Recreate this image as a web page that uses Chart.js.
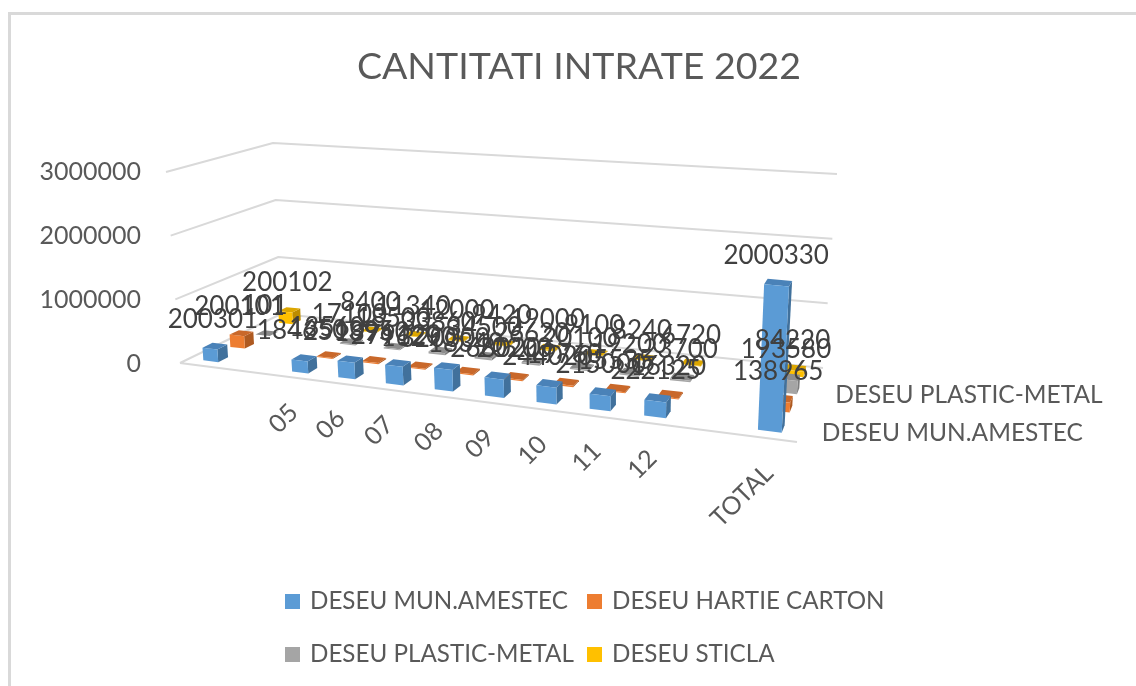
<!DOCTYPE html>
<html><head><meta charset="utf-8">
<style>
html,body{margin:0;padding:0;background:#fff;overflow:hidden}
#wrap{position:relative;width:1136px;height:686px}
#frame{position:absolute;left:8px;top:12px;right:-10px;bottom:-10px;border:3px solid #d9d9d9;box-sizing:border-box}
#c{position:absolute;left:0;top:0;filter:blur(0.6px)}
</style></head>
<body><div id="wrap"><div id="frame"></div><canvas id="c" width="1136" height="686"></canvas></div>
<script src="https://cdn.jsdelivr.net/npm/chart.js@4"></script>
<script>
const categories = ["", "", "05", "06", "07", "08", "09", "10", "11", "12", "", "TOTAL"];
const seriesNames = ["DESEU MUN.AMESTEC", "DESEU HARTIE CARTON", "DESEU PLASTIC-METAL", "DESEU STICLA"];
const seriesColors = ["#5B9BD5", "#ED7D31", "#A5A5A5", "#FFC000"];
const topColors = ["#4A82B8", "#C9682A", "#8C8C8C", "#DCA600"];
const sideColors = ["#41719C", "#AE5A21", "#7C7C7C", "#BC8C00"];
const munAmestec = [200301, null, 184650, 251395, 279120, 320000, 268020, 244020, 215000, 222125, null, 2000330];
const hartieCarton = [200101, null, 13560, 18960, 16290, 18340, 20200, 19760, 15535, 16320, null, 138965];
const plasticMetal = [101, null, 17100, 18500, 33860, 34500, 26620, 20100, 19200, 23700, null, 193580];
const sticla = [200102, null, 8400, 11340, 12000, 9420, 19000, 9100, 8240, 6720, null, 84220];
const yTicks = [0, 1000000, 2000000, 3000000];

const FONT = "Lato";
const floorCorners = {fl:[180,363], fr:[797,442], br:[823,368], bl:[281,314]};
const ceilCorners  = {fl:[166,172], fr:[809,219], br:[837,174], bl:[273,143]};

function homography(q){
  const [x0,y0]=q.fl,[x1,y1]=q.fr,[x2,y2]=q.br,[x3,y3]=q.bl;
  const dx1=x1-x2,dx2=x3-x2,dx3=x0-x1+x2-x3,dy1=y1-y2,dy2=y3-y2,dy3=y0-y1+y2-y3;
  const det=dx1*dy2-dx2*dy1;
  const g=(dx3*dy2-dx2*dy3)/det,h=(dx1*dy3-dx3*dy1)/det;
  const a=x1-x0+g*x1,b=x3-x0+h*x3,d=y1-y0+g*y1,e=y3-y0+h*y3;
  return (u,v)=>{const w=g*u+h*v+1;return [(a*u+b*v+x0)/w,(d*u+e*v+y0)/w];};
}
const floorH=homography(floorCorners), ceilH=homography(ceilCorners);
function project(u,v,w){
  const p=floorH(u,v),q=ceilH(u,v);
  return [p[0]+(q[0]-p[0])*w,p[1]+(q[1]-p[1])*w];
}
function poly(ctx,pts,fill){
  ctx.beginPath();pts.forEach((p,i)=>i?ctx.lineTo(p[0],p[1]):ctx.moveTo(p[0],p[1]));ctx.closePath();
  ctx.fillStyle=fill;ctx.fill();
}

const scene3d={
  id:"scene3d",
  beforeDatasetsDraw(chart){
    const ctx=chart.ctx,{x,y,depth}=chart.scales;
    const U=i=>{const u=(x.getPixelForValue(i)-x.left)/x.width;return u+0.09*u*(1-u);};
    const V=i=>(depth.getPixelForValue(i)-depth.left)/depth.width;
    const W=val=>(y.getPixelForValue(0)-y.getPixelForValue(val))/(y.getPixelForValue(0)-y.getPixelForValue(y.max));
    const halfU=0.37/categories.length/2, halfV=0.36/seriesNames.length/2;
    ctx.save();
    ctx.strokeStyle="#D9D9D9";ctx.lineWidth=2;ctx.lineJoin="round";
    yTicks.forEach(t=>{
      const w=W(t);
      ctx.beginPath();
      const a=project(0,0,w),b=project(0,1,w),c=project(1,1,w);
      ctx.moveTo(a[0],a[1]);ctx.lineTo(b[0],b[1]);ctx.lineTo(c[0],c[1]);
      if(t===0){const e=project(1,0,0);ctx.moveTo(a[0],a[1]);ctx.lineTo(e[0],e[1]);}
      ctx.stroke();
    });
    for(let s=seriesNames.length-1;s>=0;s--){
      const data=chart.data.datasets[s].data;
      data.forEach((val,i)=>{
        if(val==null)return;
        const u=U(i),v=V(s),w=W(val);
        const u0=u-halfU,u1=u+halfU,v0=v-halfV,v1=v+halfV;
        poly(ctx,[project(u1,v0,0),project(u1,v1,0),project(u1,v1,w),project(u1,v0,w)],sideColors[s]);
        poly(ctx,[project(u0,v0,w),project(u1,v0,w),project(u1,v1,w),project(u0,v1,w)],topColors[s]);
        poly(ctx,[project(u0,v0,0),project(u1,v0,0),project(u1,v0,w),project(u0,v0,w)],seriesColors[s]);
      });
    }
    ctx.font="26px "+FONT;ctx.fillStyle="#404040";ctx.textAlign="center";ctx.textBaseline="middle";
    chart.data.datasets.forEach((ds,s)=>ds.data.forEach((val,i)=>{
      if(val==null)return;
      const p=project(U(i),V(s),W(val));
      ctx.fillText(String(val),p[0]-2,p[1]-27);
    }));
    ctx.font="25px "+FONT;ctx.fillStyle="#595959";ctx.textAlign="right";
    chart.data.labels.forEach((lab,i)=>{
      if(!lab)return;
      const p=project(U(i),0,0);
      ctx.save();ctx.translate(p[0]+2,p[1]+31);ctx.rotate(-Math.PI/4);ctx.fillText(lab,0,0);ctx.restore();
    });
    ctx.textAlign="left";ctx.font="24.5px "+FONT;
    seriesNames.forEach((name,s)=>{
      if(s%2)return;
      const p=project(1,V(s),0);
      ctx.fillText(name,p[0]+21,p[1]+2);
    });
    const colBox=[285,587],rowY=[601,654];
    ctx.font="24.2px "+FONT;ctx.textBaseline="middle";
    seriesNames.forEach((name,s)=>{
      const bx=colBox[s%2],by=rowY[s>>1];
      ctx.fillStyle=seriesColors[s];ctx.fillRect(bx,by-7,15,15);
      ctx.fillStyle="#595959";ctx.fillText(name,bx+25,by);
    });
    ctx.restore();
    return false;
  }
};

new Chart(document.getElementById("c"),{
  type:"bar",
  data:{labels:categories,datasets:[munAmestec,hartieCarton,plasticMetal,sticla].map((d,i)=>({
    label:seriesNames[i],data:d,backgroundColor:seriesColors[i]}))},
  options:{
    responsive:false,animation:false,
    layout:{padding:{left:22,right:0,top:0,bottom:322}},
    plugins:{
      legend:{display:false},tooltip:{enabled:false},
      title:{display:true,text:"CANTITATI INTRATE 2022",color:"#595959",
        font:{family:FONT,size:37.5,weight:"normal"},padding:{top:44,bottom:83}}
    },
    scales:{
      x:{type:"category",display:false,offset:true},
      depth:{type:"category",axis:"x",labels:seriesNames,display:false,offset:true},
      y:{type:"linear",min:0,max:3000000,
        afterFit(s){s.width=127;},
        afterBuildTicks(s){s.ticks=yTicks.map(v=>({value:v}));},
        grid:{display:false},border:{display:false},
        ticks:{color:"#595959",font:{family:FONT,size:25},padding:0,callback:v=>String(v)}}
    }
  },
  plugins:[scene3d]
});
</script></body></html>
